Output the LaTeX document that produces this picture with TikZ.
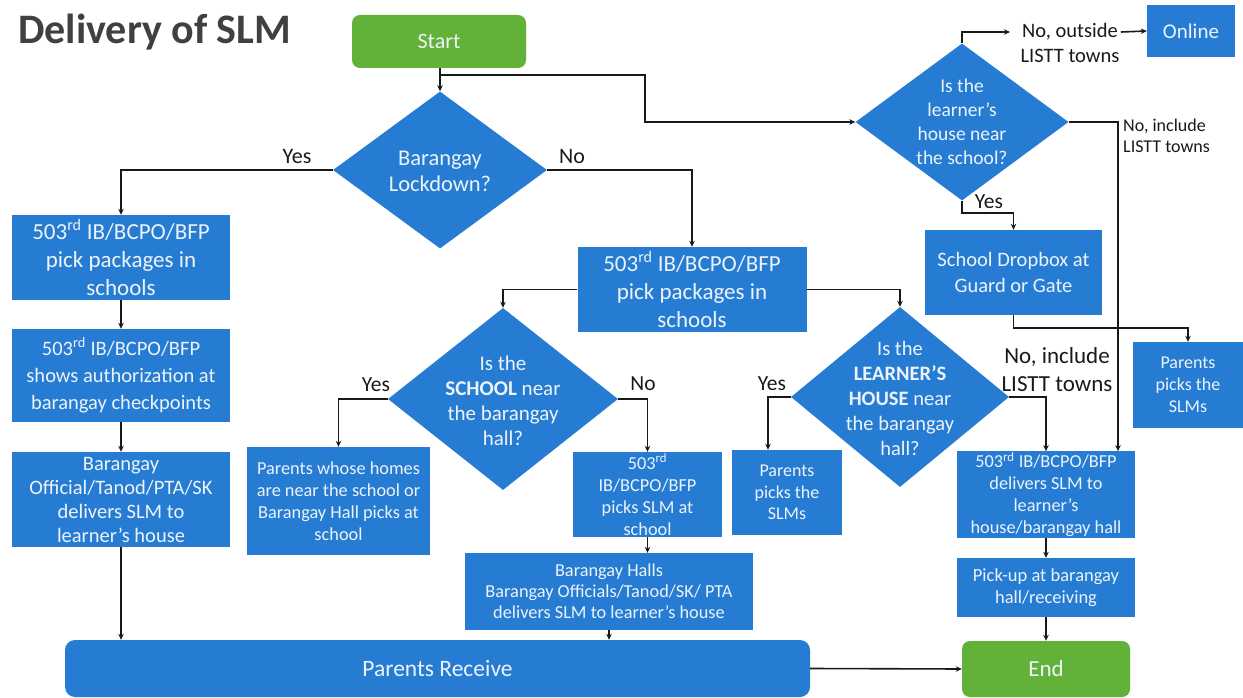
\documentclass[tikz,border=0pt]{standalone}
\usepackage{fontspec}
\setmainfont{Carlito}
\usetikzlibrary{shapes.geometric,arrows.meta,calc}
\definecolor{sblue}{RGB}{38,124,210}
\definecolor{sgreen}{RGB}{98,178,58}
\definecolor{btext}{RGB}{236,243,250}
\definecolor{ink}{RGB}{25,25,25}
\definecolor{titlec}{RGB}{64,64,64}
\tikzset{
  box/.style={rectangle, fill=sblue, text=btext, align=center, inner sep=1pt},
  dia/.style={diamond, fill=sblue, inner sep=0pt, aspect=1},
  dtext/.style={text=btext, align=center, inner sep=0pt},
  term/.style={rectangle, rounded corners=8pt, fill=sgreen, text=btext, align=center},
  arr/.style={draw=ink, line width=1.6pt, -{Stealth[length=6pt,width=5.5pt]}},
  lab/.style={text=ink, inner sep=0pt, align=center},
}
\newcommand{\fs}[2]{\fontsize{#1}{#2}\selectfont}
\begin{document}
\begin{tikzpicture}[x=1pt,y=-1pt]
\fill[white] (0,0) rectangle (1243,698);
\useasboundingbox (0,0) rectangle (1243,698);

% title
\node[anchor=base west, font=\fs{42}{48}\bfseries, text=titlec, inner sep=0pt] (title) at (18,44) {Delivery of SLM};

% terminals
\node[term, minimum width=174pt, minimum height=53pt, font=\fs{22}{24}] (start) at (439,41.5) {Start};
\node[term, minimum width=168pt, minimum height=56pt, font=\fs{23}{26}] (end) at (1046,669) {End};
\node[box, rounded corners=10pt, minimum width=745pt, minimum height=57pt, font=\fs{23.5}{28}] (pr) at (437.5,668.5) {Parents Receive};

% diamonds
\node[dia, minimum width=214pt, minimum height=157pt] (d1) at (440,170) {};
\node[dtext, font=\fs{22.5}{26}] (d1t) at (440,171) {Barangay\\Lockdown?};
\node[dia, minimum width=230pt, minimum height=182pt] (d2) at (503,399) {};
\node[dtext, font=\fs{21}{25}] (d2t) at (503,401) {Is the\\\textbf{SCHOOL} near\\the barangay\\hall?};
\node[dia, minimum width=218pt, minimum height=180pt] (d3) at (900,397) {};
\node[dtext, font=\fs{20.5}{25}] (d3t) at (900,398) {Is the\\\textbf{LEARNER’S}\\\textbf{HOUSE} near\\the barangay\\hall?};
\node[dia, minimum width=213pt, minimum height=157pt] (d4) at (962,122) {};
\node[dtext, font=\fs{19.5}{24}] (d4t) at (962,122) {Is the\\learner’s\\house near\\the school?};

% left column
\node[box, minimum width=218pt, minimum height=85pt, font=\fs{23}{28}] (b1) at (121,257.5) {503\textsuperscript{rd} IB/BCPO/BFP\\pick packages in\\schools};
\node[box, minimum width=218pt, minimum height=93pt, font=\fs{20.5}{27}] (b2) at (121,375.5) {503\textsuperscript{rd} IB/BCPO/BFP\\shows authorization at\\barangay checkpoints};
\node[box, minimum width=218pt, minimum height=95pt, font=\fs{20.5}{24}] (b3) at (121,499.5) {Barangay\\Official/Tanod/PTA/SK\\delivers SLM to\\learner’s house};

% centre
\node[box, minimum width=229pt, minimum height=85pt, font=\fs{23}{28}] (c1) at (692,289.5) {503\textsuperscript{rd} IB/BCPO/BFP\\pick packages in\\schools};
\node[box, minimum width=183pt, minimum height=108pt, font=\fs{18.3}{22}] (p1) at (338.5,501) {Parents whose homes\\are near the school or\\Barangay Hall picks at\\school};
\node[box, minimum width=149pt, minimum height=85pt, font=\fs{18.3}{22}] (c2) at (647.5,494.5) {503\textsuperscript{rd}\\IB/BCPO/BFP\\picks SLM at\\school};
\node[box, minimum width=288pt, minimum height=77pt, font=\fs{18.3}{21}] (c3) at (609,591.5) {Barangay Halls\\Barangay Officials/Tanod/SK/ PTA\\delivers SLM to learner’s house};
\node[box, minimum width=110pt, minimum height=85pt, font=\fs{18}{21.5}] (p2) at (787,492.5) {Parents\\picks the\\SLMs};

% right
\node[box, minimum width=178pt, minimum height=85pt, font=\fs{18.3}{22}] (r1) at (1046,494.5) {503\textsuperscript{rd} IB/BCPO/BFP\\delivers SLM to\\learner’s\\house/barangay hall};
\node[box, minimum width=178pt, minimum height=59pt, font=\fs{18.5}{22}] (r2) at (1046,587.5) {Pick-up at barangay\\hall/receiving};
\node[box, minimum width=177pt, minimum height=85pt, font=\fs{20.5}{26}] (r0) at (1013.5,272.5) {School Dropbox at\\Guard or Gate};
\node[box, minimum width=110pt, minimum height=86pt, font=\fs{18}{22}] (p3) at (1188,385) {Parents\\picks the\\SLMs};
\node[box, minimum width=88pt, minimum height=52pt, font=\fs{21}{24}] (online) at (1191,31) {Online};

% labels
\node[lab, font=\fs{22}{24}] (l1) at (297,157) {Yes};
\node[lab, font=\fs{22}{24}] (l2) at (572,157) {No};
\node[lab, font=\fs{21.5}{24}] (l3) at (376,385) {Yes};
\node[lab, font=\fs{21.5}{24}] (l4) at (643,384) {No};
\node[lab, font=\fs{21.5}{24}] (l5) at (772,384) {Yes};
\node[lab, font=\fs{23}{28}] (l6) at (1057,370) {No, include\\LISTT towns};
\node[lab, font=\fs{21.5}{24}] (l7) at (989,202) {Yes};
\node[lab, font=\fs{20.5}{24}] (lout1) at (1070,32) {No, outside};
\node[lab, font=\fs{20.5}{24}] (lout2) at (1070,56) {LISTT towns};
\node[lab, font=\fs{18}{21}, anchor=north west, align=left] (l8) at (1123,119) {No, include\\LISTT towns};

% connectors
\coordinate (j1) at (440,75);
\coordinate (k1) at (645,75);
\draw[arr] (start.south -| d1.north) -- (d1.north);
\draw[arr] (j1) -- (k1) |- (d4.west);
\draw[arr] (d1.west) -| (b1.north);
\draw[arr] (d1.east) -| (c1.north);
\draw[arr] (b1.south) -- (b2.north);
\draw[arr] (b2.south) -- (b3.north);
\draw[arr] (b3.south) -- (b3.south |- pr.north);
\draw[arr] (c1.west) -| (d2.north);
\draw[arr] (c1.east) -| (d3.north);
\draw[arr] (d2.west) -| (p1.north);
\draw[arr] (d2.east) -| (c2.north);
\draw[arr] (c2.south) -- (c2.south |- c3.north);
\draw[arr] (c3.south) -- (c3.south |- pr.north);
\draw[arr] (pr.east) -- (end.west);
\draw[arr] (d3.west) -| ([xshift=-19pt]p2.north);
\draw[arr] (d3.east) -| (r1.north);
\draw[arr] (r1.south) -- (r2.north);
\draw[arr] (r2.south) -- (end.north);
\draw[arr] (d4.north) |- ([xshift=-12pt]lout1.west);
\draw[arr] ([xshift=3pt]lout1.east) -- (online.west);
\draw[arr] (d4.east) -| ([xshift=72pt]r1.north);
\draw[arr] (d4.south) -- ++(0,12) -| (r0.north);
\draw[arr] (r0.south) -- ++(0,13) -| (p3.north);
\end{tikzpicture}
\end{document}
